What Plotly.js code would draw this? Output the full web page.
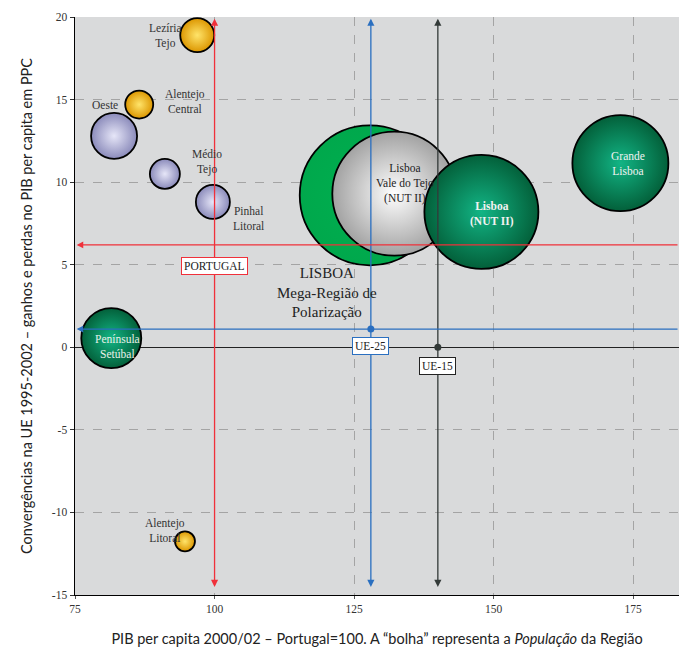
<!DOCTYPE html>
<html>
<head>
<meta charset="utf-8">
<script src="https://cdn.plot.ly/plotly-3.0.1.min.js"></script>
<style>html,body{margin:0;padding:0;background:#fff;}#chart{width:679px;height:654px;}</style>
</head>
<body>
<div id="chart"></div>
<script>
// ---- Data ----
const regions = ["LISBOA Mega-Região", "Lisboa Vale do Tejo (NUT II)", "Lisboa (NUT II)", "Grande Lisboa",
  "Península Setúbal", "Oeste", "Lezíria Tejo", "Alentejo Central", "Médio Tejo", "Pinhal Litoral", "Alentejo Litoral"];
const pibPerCapita = [127.8, 132.2, 147.8, 172.7, 81.5, 82.0, 96.9, 86.5, 91.1, 99.7, 94.7];
const convergencia = [9.2, 9.3, 8.2, 11.15, 0.55, 12.8, 18.9, 14.7, 10.5, 8.8, -11.75];
const bubbleSize = [140, 124, 114, 96, 60, 46, 34, 28, 30, 34, 20];
const bubbleGroup = ["mega", "lvt", "dark", "dark", "dark", "lav", "yel", "yel", "lav", "lav", "yel"];

const labelText = ["LISBOA<br>Mega-Região de<br>Polarização", "Lisboa<br>Vale do Tejo<br>(NUT II)", "<b>Lisboa<br>(NUT II)</b>",
  "Grande<br>Lisboa", "Península<br>Setúbal", "Oeste", "Lezíria<br>Tejo", "Alentejo<br>Central", "Médio<br>Tejo",
  "Pinhal<br>Litoral", "Alentejo<br>Litoral"];
const labelX = [120.2, 134.1, 149.7, 174.1, 82.7, 80.4, 91.3, 94.7, 98.7, 106.0, 91.1];
const labelY = [3.3, 9.9, 8.1, 11.15, 0.06, 14.67, 18.85, 14.9, 11.2, 7.8, -11.1];
const labelColor = ["#222", "#222", "#f2f2f2", "#f2f2f2", "#e8f0e8", "#333", "#333", "#333", "#333", "#333", "#333"];

// reference values
const refNames = ["PORTUGAL", "UE-25", "UE-15"];
const refX = [100, 128, 140];
const refY = [6.2, 1.1, 0];
const refLabelY = [4.9, 0.05, -1.15];
const refColors = ["#f0303a", "#2a6fc0", "#333a38"];

const xTicks = [75, 100, 125, 150, 175];
const yTicks = [-15, -10, -5, 0, 5, 10, 15, 20];

// ---- Styles ----
const centerCol = {mega: "#00b050", lvt: "#ffffff", dark: "#12b585", lav: "#e6e6f8", yel: "#ffe46a"};
const edgeCol = {mega: "#00a84c", lvt: "#a2a2a2", dark: "#03603a", lav: "#8a8aba", yel: "#dc9600"};

const trace = {
  type: "scatter", mode: "markers",
  x: pibPerCapita, y: convergencia, text: regions, hoverinfo: "text",
  marker: {
    size: bubbleSize, sizemode: "diameter",
    color: bubbleGroup.map(g => edgeCol[g]),
    gradient: {type: "radial", color: bubbleGroup.map(g => centerCol[g])},
    line: {color: "#000", width: 1.8}, opacity: 1
  },
  showlegend: false
};

const dotTrace = {
  type: "scatter", mode: "markers",
  x: [refX[1], refX[2]], y: [refY[1], refY[2]],
  marker: {size: 7, color: [refColors[1], refColors[2]]},
  hoverinfo: "skip", showlegend: false
};

const annotations = [];
// vertical double arrows
for (let i = 0; i < 3; i++) {
  annotations.push({
    xref: "x", yref: "y", axref: "x", ayref: "y",
    x: refX[i], y: 19.9, ax: refX[i], ay: -14.6, text: "",
    showarrow: true, arrowhead: 2, startarrowhead: 2, arrowside: "end+start",
    arrowsize: 1.1, startarrowsize: 1.1, arrowwidth: 1.3, arrowcolor: refColors[i]
  });
}
// horizontal arrows pointing left (PORTUGAL, UE-25)
for (let i = 0; i < 2; i++) {
  annotations.push({
    xref: "x", yref: "y", axref: "x", ayref: "y",
    x: 75.3, y: refY[i], ax: 183.2, ay: refY[i], text: "",
    showarrow: true, arrowhead: 2, arrowsize: 1.1, arrowwidth: 1.2, arrowcolor: refColors[i]
  });
}
// reference label boxes
for (let i = 0; i < 3; i++) {
  annotations.push({
    xref: "x", yref: "y", x: refX[i], y: refLabelY[i], text: refNames[i], showarrow: false,
    bgcolor: "#ffffff", bordercolor: i === 2 ? "#222" : refColors[i], borderwidth: 1, borderpad: 2,
    font: {family: "Liberation Serif, serif", size: 11.5, color: "#222"}
  });
}
// bubble labels
for (let i = 0; i < labelText.length; i++) {
  annotations.push({
    xref: "x", yref: "y", x: labelX[i], y: labelY[i], text: labelText[i], showarrow: false,
    font: {family: "Liberation Serif, serif", size: i === 0 ? 15 : 11.5, color: labelColor[i]},
    align: "center"
  });
}

const layout = {
  width: 679, height: 654,
  margin: {l: 75, r: 0, t: 17, b: 59},
  paper_bgcolor: "#ffffff", plot_bgcolor: "#d9dadb",
  xaxis: {
    range: [75, 183.2], tickvals: xTicks, ticktext: xTicks.map(String),
    showgrid: true, gridcolor: "#a4a4a4", griddash: "dash", gridwidth: 1,
    zeroline: false, showline: true, linecolor: "#000", linewidth: 1,
    ticks: "outside", ticklen: 3, tickcolor: "#555",
    tickfont: {family: "Liberation Serif, serif", size: 11.5, color: "#333"},
    title: {text: "PIB per capita 2000/02 – Portugal=100. A “bolha” representa a <i>População</i> da Região",
      font: {family: "Lato, sans-serif", size: 14.5, color: "#222"}, standoff: 20},
    fixedrange: true
  },
  yaxis: {
    range: [-15, 20], tickvals: yTicks, ticktext: yTicks.map(String),
    showgrid: true, gridcolor: "#a4a4a4", griddash: "dash", gridwidth: 1,
    zeroline: true, zerolinecolor: "#222", zerolinewidth: 1.5,
    showline: true, linecolor: "#000", linewidth: 1.5,
    ticks: "outside", ticklen: 4, tickcolor: "#333",
    tickfont: {family: "Liberation Serif, serif", size: 11.5, color: "#333"},
    title: {text: "Convergências na UE 1995-2002 – ganhos e perdas no PIB per capita em PPC",
      font: {family: "Lato, sans-serif", size: 14.5, color: "#222"}, standoff: 16},
    fixedrange: true
  },
  annotations: annotations,
  showlegend: false
};

Plotly.newPlot("chart", [trace, dotTrace], layout, {displayModeBar: false, staticPlot: true});
</script>
</body>
</html>
